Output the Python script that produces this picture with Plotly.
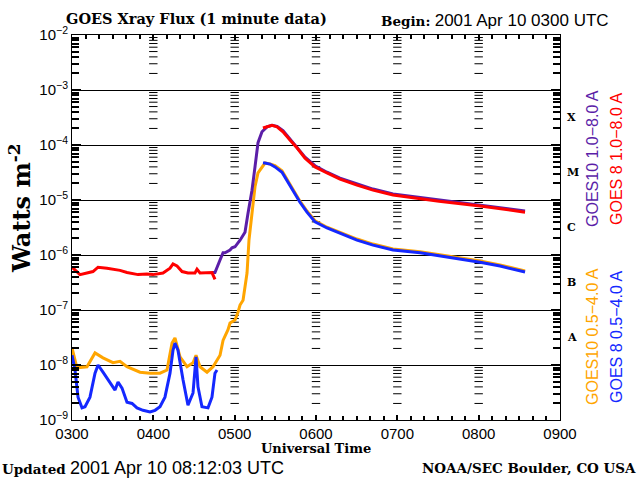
import plotly.graph_objects as go

# ---------------- data (time in decimal hours UT, flux in W m^-2) ----------------
hour_ticks = [3, 4, 5, 6, 7, 8, 9]
hour_labels = ["0300", "0400", "0500", "0600", "0700", "0800", "0900"]
decade_exps = [-9, -8, -7, -6, -5, -4, -3, -2]

goes8_long_t1 = [3.000, 3.098, 3.258, 3.320, 3.430, 3.590, 3.676, 3.812, 3.922, 3.996, 4.119,
                 4.205, 4.242, 4.291, 4.353, 4.426, 4.512, 4.537, 4.574, 4.660, 4.721, 4.758]
goes8_long_f1 = [6.0e-7, 4.4e-7, 5.0e-7, 6.0e-7, 5.75e-7, 5.25e-7, 4.8e-7, 4.4e-7, 4.5e-7, 4.4e-7, 4.7e-7,
                 5.75e-7, 6.9e-7, 6.3e-7, 5.0e-7, 4.7e-7, 4.7e-7, 5.5e-7, 4.7e-7, 4.7e-7, 4.8e-7, 3.6e-7]
goes8_long_t2 = [5.348, 5.398, 5.459, 5.521, 5.594, 5.680, 5.766, 5.865, 5.988, 6.135, 6.295,
                 6.504, 6.701, 6.947, 7.512, 8.017, 8.263, 8.570]
goes8_long_f2 = [2.04e-4, 2.14e-4, 2.29e-4, 2.14e-4, 1.74e-4, 1.23e-4, 8.9e-5, 5.75e-5, 4.0e-5, 3.1e-5, 2.4e-5,
                 1.86e-5, 1.51e-5, 1.23e-5, 9.5e-6, 7.8e-6, 6.9e-6, 6.0e-6]

goes10_long_t = [4.721, 4.758, 4.820, 4.857, 4.881, 4.943, 4.967, 5.004, 5.066, 5.127, 5.164, 5.213,
                 5.250, 5.287, 5.336, 5.398, 5.459, 5.521, 5.594, 5.680, 5.766, 5.865, 5.988, 6.135,
                 6.295, 6.504, 6.701, 6.947, 7.512, 8.017, 8.263, 8.570]
goes10_long_f = [4.8e-7, 4.8e-7, 8.1e-7, 1.1e-6, 1.1e-6, 1.23e-6, 1.35e-6, 1.41e-6, 1.86e-6, 2.6e-6, 5.75e-6, 1.5e-5,
                 4.0e-5, 1.1e-4, 1.74e-4, 2.14e-4, 2.29e-4, 2.19e-4, 1.82e-4, 1.29e-4, 9.3e-5, 6.0e-5, 4.2e-5, 3.2e-5,
                 2.5e-5, 1.95e-5, 1.58e-5, 1.29e-5, 1.0e-5, 8.1e-6, 7.2e-6, 6.3e-6]

goes8_short_t1 = [3.000, 3.037, 3.074, 3.123, 3.160, 3.221, 3.283, 3.320, 3.381, 3.467, 3.529, 3.566,
                  3.615, 3.676, 3.738, 3.799, 3.873, 3.959, 4.021, 4.082, 4.143, 4.205, 4.242, 4.266,
                  4.303, 4.365, 4.426, 4.488, 4.525, 4.549, 4.598, 4.672, 4.721, 4.758, 4.783]
goes8_short_f1 = [1.51e-8, 8.1e-9, 2.6e-9, 1.66e-9, 1.74e-9, 2.6e-9, 7.1e-9, 1.0e-8, 7.4e-9, 4.7e-9, 3.5e-9, 4.9e-9,
                  3.8e-9, 2.1e-9, 2.0e-9, 1.66e-9, 1.5e-9, 1.4e-9, 1.5e-9, 1.74e-9, 2.6e-9, 7.1e-9, 1.86e-8, 2.5e-8,
                  1.86e-8, 5.4e-9, 1.86e-9, 3.1e-9, 1.4e-8, 4.0e-9, 1.74e-9, 1.66e-9, 2.6e-9, 7.1e-9, 8.1e-9]
goes8_short_t2 = [5.348, 5.373, 5.435, 5.496, 5.582, 5.656, 5.742, 5.803, 5.889, 5.988, 6.135, 6.295,
                  6.504, 6.701, 6.947, 7.279, 7.648, 8.017, 8.263, 8.570]
goes8_short_f2 = [4.7e-5, 4.7e-5, 4.5e-5, 4.0e-5, 3.2e-5, 2.1e-5, 1.35e-5, 9.1e-6, 6.0e-6, 4.0e-6, 3.1e-6, 2.5e-6,
                  1.86e-6, 1.51e-6, 1.23e-6, 1.1e-6, 9.1e-7, 7.4e-7, 6.3e-7, 4.9e-7]

goes10_short_t = [3.000, 3.061, 3.184, 3.283, 3.381, 3.504, 3.590, 3.676, 3.836, 3.959, 4.082, 4.168,
                  4.230, 4.266, 4.328, 4.414, 4.488, 4.525, 4.574, 4.660, 4.734, 4.820, 4.857, 4.918,
                  4.943, 5.004, 5.041, 5.066, 5.103, 5.152, 5.176, 5.213, 5.250, 5.287, 5.336, 5.373,
                  5.435, 5.496, 5.582, 5.656, 5.742, 5.803, 5.889, 5.988, 6.135, 6.295, 6.504, 6.701,
                  6.947, 7.279, 7.648, 8.017, 8.263, 8.570]
goes10_short_f = [2.04e-8, 8.9e-9, 9.3e-9, 1.66e-8, 1.35e-8, 1.1e-8, 1.17e-8, 9.3e-9, 7.4e-9, 7.1e-9, 7.1e-9, 8.1e-9,
                  2.5e-8, 3.1e-8, 1.4e-8, 9.3e-9, 1.1e-8, 1.5e-8, 9.3e-9, 7.4e-9, 9.3e-9, 1.5e-8, 2.8e-8, 4.4e-8,
                  5.8e-8, 6.6e-8, 9.1e-8, 1.23e-7, 1.5e-7, 4.7e-7, 1.86e-6, 6.6e-6, 1.74e-5, 3.1e-5, 4.0e-5, 4.7e-5,
                  4.5e-5, 4.2e-5, 3.4e-5, 2.24e-5, 1.41e-5, 9.5e-6, 6.3e-6, 4.2e-6, 3.2e-6, 2.6e-6, 1.95e-6, 1.58e-6,
                  1.29e-6, 1.15e-6, 9.5e-7, 7.8e-7, 6.6e-7, 5.1e-7]

flare_classes = ["X", "M", "C", "B", "A"]
flare_class_log = [-3.5, -4.5, -5.5, -6.5, -7.5]   # log10 flux of the label centres

COL_RED = "#ff0000"
COL_PURPLE = "#5b1ea8"
COL_ORANGE = "#ffa500"
COL_BLUE = "#1428ff"

X0, X1 = 3.0, 9.0
LOG0, LOG1 = -9, -2
PLOT_W, PLOT_H = 488.0, 385.0

minor_vals = [d * 10.0**e for e in range(LOG0, LOG1) for d in range(2, 10)]
decade_vals = [10.0**e for e in decade_exps]
decade_text = ["10<sup>\u2212%d</sup>" % -e for e in decade_exps]
minor_times = [X0 + k / 6 for k in range(1, 36) if k % 6 != 0]

# ---------------- figure ----------------
fig = go.Figure()

# dashed-looking hour columns (log minor tick marks at each interior hour)
col_x = [h for h in hour_ticks[1:-1] for v in minor_vals]
col_y = [v for h in hour_ticks[1:-1] for v in minor_vals]
fig.add_trace(go.Scatter(x=col_x, y=col_y, mode="markers", hoverinfo="skip",
                         marker=dict(symbol="line-ew", size=6, color="black",
                                     line=dict(width=1, color="black"))))

fig.add_trace(go.Scatter(x=goes10_short_t, y=goes10_short_f, mode="lines",
                         line=dict(color=COL_ORANGE, width=3)))
fig.add_trace(go.Scatter(x=goes8_short_t1 + [None] + goes8_short_t2,
                         y=goes8_short_f1 + [None] + goes8_short_f2, mode="lines",
                         line=dict(color=COL_BLUE, width=3)))
fig.add_trace(go.Scatter(x=goes10_long_t, y=goes10_long_f, mode="lines",
                         line=dict(color=COL_PURPLE, width=3)))
fig.add_trace(go.Scatter(x=goes8_long_t1 + [None] + goes8_long_t2,
                         y=goes8_long_f1 + [None] + goes8_long_f2, mode="lines",
                         line=dict(color=COL_RED, width=3)))

SERIF = "DejaVu Serif"
SANS = "Liberation Sans"

fig.update_layout(
    width=640, height=480,
    margin=dict(l=72, r=80, t=35, b=60),
    paper_bgcolor="white", plot_bgcolor="white",
    showlegend=False, hovermode=False,
    xaxis=dict(range=[X0, X1], tickvals=hour_ticks, ticktext=hour_labels,
               showgrid=False, zeroline=False, showline=True, linecolor="black", linewidth=1,
               mirror="ticks", ticks="inside", ticklen=5, tickwidth=1.5, tickcolor="black",
               minor=dict(tickvals=minor_times, ticks="inside", ticklen=4, tickwidth=1.5,
                          tickcolor="black", showgrid=False),
               tickfont=dict(family=SANS, size=15, color="black")),
    yaxis=dict(type="log", range=[LOG0, LOG1], tickvals=decade_vals, ticktext=decade_text,
               showgrid=True, gridcolor="black", gridwidth=1, zeroline=False,
               showline=True, linecolor="black", linewidth=1, mirror="ticks",
               ticks="inside", ticklen=9, tickwidth=1.5, tickcolor="black",
               minor=dict(tickvals=minor_vals, ticks="inside", ticklen=7, tickwidth=1.5,
                          tickcolor="black", showgrid=False),
               tickfont=dict(family=SANS, size=15, color="black")),
)

def ann(text, x, y, size, family, xanchor="left", yanchor="middle", color="black", angle=0):
    fig.add_annotation(text=text, x=x, y=y, xref="paper", yref="paper", showarrow=False,
                       xanchor=xanchor, yanchor=yanchor, textangle=angle,
                       font=dict(family=family, size=size, color=color))

def px(xp):
    return (xp - 72) / PLOT_W

def py(yp):
    return (420 - yp) / PLOT_H

ann("<b>GOES Xray Flux (1 minute data)</b>", px(64), py(18), 14.5, SERIF)
ann("<b>Begin:</b> <span style='font-family:Liberation Sans;font-size:17px'>2001 Apr 10 0300 UTC</span>",
    px(379), py(20), 13.5, SERIF)
ann("<b>Watts m<sup>-2</sup></b>", px(20), py(208), 24, SERIF, xanchor="center", angle=-90)
ann("<b>Universal Time</b>", 0.5, py(449), 13, SERIF, xanchor="center")
ann("<b>Updated</b> <span style='font-family:Liberation Sans;font-size:18px'>2001 Apr 10 08:12:03 UTC</span>",
    px(0), py(468), 13.5, SERIF)
ann("<b>NOAA/SEC Boulder, CO USA</b>", px(638), py(468), 13.5, SERIF, xanchor="right")

for lab, lv in zip(flare_classes, flare_class_log):
    ann("<b>" + lab + "</b>", px(565), (lv - LOG0) / (LOG1 - LOG0), 11, SERIF)

ann("GOES10 1.0\u22128.0 A", px(592), py(159), 16, SANS, xanchor="center", color=COL_PURPLE, angle=-90)
ann("GOES 8 1.0\u22128.0 A", px(616), py(159), 16, SANS, xanchor="center", color=COL_RED, angle=-90)
ann("GOES10 0.5\u22124.0 A", px(592), py(337), 16, SANS, xanchor="center", color=COL_ORANGE, angle=-90)
ann("GOES 8 0.5\u22124.0 A", px(616), py(337), 16, SANS, xanchor="center", color=COL_BLUE, angle=-90)

fig.write_html("out.html")
